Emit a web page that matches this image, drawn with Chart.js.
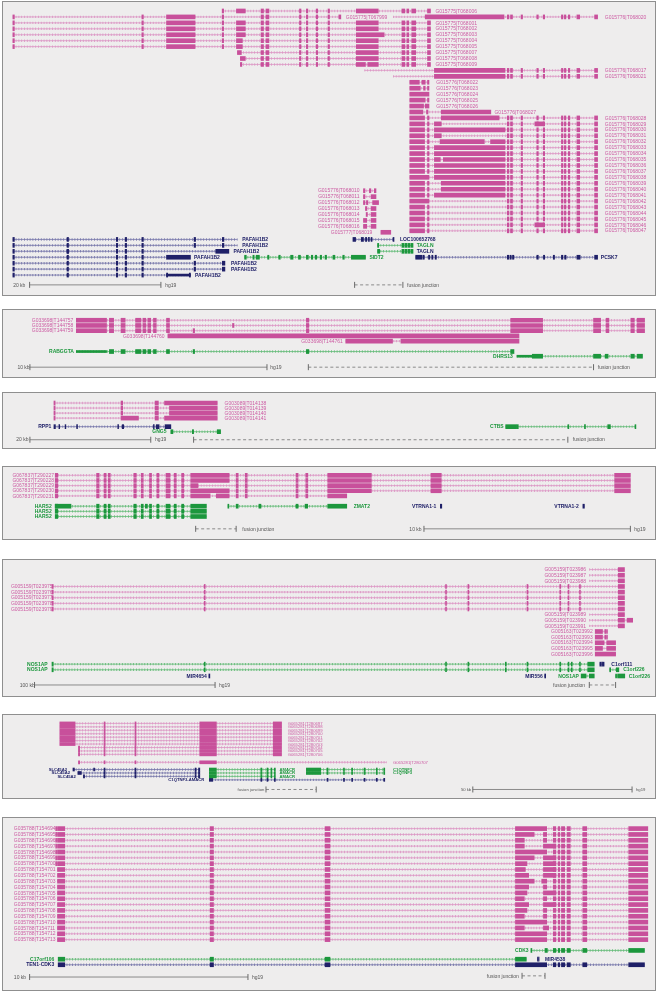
<!DOCTYPE html>
<html>
<head>
<meta charset="utf-8">
<script src="https://cdn.jsdelivr.net/npm/chart.js@4.4.1/dist/chart.umd.min.js"></script>
<style>
  body { margin: 0; background: #fff; }
  .panel { position: absolute; left: 2px; width: 654px; box-sizing: border-box; background: #eeeded; border: 1.5px solid #8f8f8f; }
  canvas { position: absolute; left: 0; }
</style>
</head>
<body>
<script>
// panel frames (page px) and track rows
const frameTop = [1, 309, 392, 466, 559, 714, 817];
const frameBottom = [296, 378, 449, 540, 697, 799, 991];
const rowTop = [6.15, 316.3, 399.3, 471, 565, 719, 824];
const rowGap = [6.15, 6.1, 6.1, 5.95, 6.07, 3.9, 6.2];
const exonH = [4, 4, 4, 4, 4, 3, 4];
const fontPx = [5, 5, 5, 5, 5, 4.2, 5];

// transcript = [colour, row, start, end, exons, label, labelPos, align, labelColour]
// exon = [start, end] or [start, end, 1] for thin (UTR) parts

// ---- panel 1 ----
const p1Tick = [[8, 9.5], [139, 140.5], [220.5, 222]];
const p1Mid = [[260, 262.5], [265, 268], [299, 300.5], [306, 307.5], [316, 317.5], [328, 329.5]];
const p1Tail = [[403, 406], [408, 410], [413, 417], [429, 432]];
const p1Right = [[510, 511.7], [513.3, 515.3], [524, 525.5], [540, 541.5], [546.5, 548], [565, 566.5], [568, 569.5], [572, 573.5], [580.7, 583.5], [598.7, 601.7]];

const p1Tx = [
  ['p', 0, 220.7, 432, [[220.5, 222], [235, 244], ...p1Mid, [356.7, 379], ...p1Tail], 'G015775|T068006', 437, 'l'],
  ['p', 1, 8, 341, [...p1Tick, [164, 193], ...p1Mid, [339, 341]], 'G015775|T067999', 346, 'l'],
  ['p', 1, 394, 601.7, [[426.7, 506.7], ...p1Right], 'G015776|T068020', 609, 'l'],
  ['p', 2, 8, 432, [...p1Tick, [164, 193], [235, 244], ...p1Mid, [356.7, 379], ...p1Tail], 'G015775|T068001', 437, 'l'],
  ['p', 3, 8, 432, [...p1Tick, [164, 193], [235, 244], ...p1Mid, [356.7, 379], ...p1Tail], 'G015775|T068002', 437, 'l'],
  ['p', 4, 8, 432, [...p1Tick, [164, 193], [235, 244], ...p1Mid, [356.7, 385], ...p1Tail], 'G015775|T068003', 437, 'l'],
  ['p', 5, 8, 432, [...p1Tick, [164, 193], [235, 241], ...p1Mid, [356.7, 379], ...p1Tail], 'G015775|T068004', 437, 'l'],
  ['p', 6, 8, 432, [...p1Tick, [164, 193], [235, 241], ...p1Mid, [356.7, 379], ...p1Tail], 'G015775|T068005', 437, 'l'],
  ['p', 7, 236, 432, [[236, 240], ...p1Mid, [356.7, 379], ...p1Tail], 'G015775|T068007', 437, 'l'],
  ['p', 8, 239, 432, [[239, 244], ...p1Mid, [356.7, 379], ...p1Tail], 'G015775|T068008', 437, 'l'],
  ['p', 9, 239, 432, [[239, 240.5], ...p1Mid, [356.7, 366], [368.3, 379], ...p1Tail], 'G015775|T068009', 437, 'l'],
  ['p', 10, 365, 601.7, [[436, 507.7], ...p1Right], 'G015776|T068017', 609, 'l'],
  ['p', 11, 394, 601.7, [[436, 507.7], ...p1Right], 'G015776|T068021', 609, 'l'],
  ['p', 12, 411, 430.5, [[411, 420.7], [423.3, 426.7], [429, 430.5]], 'G015776|T068022', 438, 'l'],
  ['p', 13, 411, 430.5, [[411, 421.7], [425, 426.7], [429, 430.5]], 'G015776|T068023', 438, 'l'],
  ['p', 14, 411, 430.5, [[411, 430.5]], 'G015776|T068024', 438, 'l'],
  ['p', 15, 411, 430.5, [[411, 426.7], [429, 430.5]], 'G015776|T068025', 438, 'l'],
  ['p', 16, 411, 430.5, [[411, 425], [426.7, 430.5]], 'G015776|T068026', 438, 'l'],
  ['p', 17, 411, 493.3, [[411, 424.3], [428, 429.5], [443, 493.3]], 'G015776|T068027', 497, 'l'],
];

const p1LongNames = ['T068028', 'T068029', 'T068030', 'T068031', 'T068032', 'T068033', 'T068034', 'T068035', 'T068036', 'T068037',
  'T068038', 'T068039', 'T068040', 'T068041', 'T068042', 'T068043', 'T068044', 'T068045', 'T068046', 'T068047'];
const p1LongHead = [
  [[411, 426], [429, 430.5]], [[411, 426], [429, 430.5]], [[411, 426], [429, 430.5]], [[411, 426], [429, 430.5]], [[411, 426], [429, 430.5]],
  [[411, 426], [429, 430.5]], [[411, 426], [429, 430.5]], [[411, 426], [429, 430.5]], [[411, 426], [429, 430.5]], [[411, 426], [429, 430.5]],
  [[411, 430.5]], [[411, 426], [429, 430.5]], [[411, 426], [429, 430.5]], [[411, 426], [429, 430.5]], [[411, 430.5]],
  [[411, 426], [429, 430.5]], [[411, 426], [429, 430.5]], [[411, 426], [429, 430.5]], [[411, 426], [429, 430.5]], [[411, 426], [429, 430.5]],
];
const p1LongBody = [
  [[443, 501.7]], [[436, 443], [538, 547]], [[436, 507.7]], [[436, 443]], [[441.7, 486.7], [493, 507.7]],
  [[436, 507.7]], [[436, 507.7]], [[436, 442], [445, 507.7]], [[436, 507.7]], [[436, 507.7]],
  [[436, 507.7]], [[443, 507.7]], [[443, 507.7]], [[436, 507.7]], [],
  [], [], [], [[538, 547]], [],
];
const p1Long = p1LongNames.map((n, i) =>
  ['p', 18 + i, 411, 601.7, [...p1LongHead[i], ...p1LongBody[i], ...p1Right], 'G015776|' + n, 609, 'l']);

const p1Short = [
  ['p', 30.25, 364, 376.7, [[364, 365.5], [370, 371.5], [375, 376.7]], 'G015776|T068010', 360, 'r'],
  ['p', 31.25, 364, 376.7, [[364, 365.5], [371.7, 376.7]], 'G015776|T068011', 360, 'r'],
  ['p', 32.25, 364, 379.3, [[364, 365.5], [367, 368.5], [373.3, 379.3]], 'G015776|T068012', 360, 'r'],
  ['p', 33.25, 366, 376.7, [[366, 367.5], [371.7, 376.7]], 'G015776|T068013', 360, 'r'],
  ['p', 34.25, 366.7, 376.7, [[366.7, 368], [371.7, 376.7]], 'G015776|T068014', 360, 'r'],
  ['p', 35.25, 364, 376.7, [[364, 367.3], [371.7, 376.7]], 'G015776|T068015', 360, 'r'],
  ['p', 36.25, 364, 376.7, [[364, 367.3], [371.7, 376.7]], 'G015776|T068016', 360, 'r'],
  ['p', 37.25, 381.7, 391.7, [[381.7, 391.7]], 'G015777|T068019', 373, 'r'],
];

const pafTicks = [[8, 9.5], [63, 64.5], [113, 114.5], [122, 123.5], [139, 140.5]];
const p1Genes = [
  ['n', 38.45, 8, 236, [...pafTicks, [192, 193.5], [220.7, 222.3]], 'PAFAH1B2', 241, 'l'],
  ['n', 39.45, 8, 236, [...pafTicks, [192, 193.5], [220.7, 222.3]], 'PAFAH1B2', 241, 'l'],
  ['n', 40.45, 8, 227.3, [...pafTicks, [63, 64.5], [214, 227.3]], 'PAFAH1B2', 232, 'l'],
  ['n', 41.45, 8, 188.3, [...pafTicks, [164, 188.3]], 'PAFAH1B2', 192, 'l'],
  ['n', 42.45, 8, 223.3, [...pafTicks, [192, 193.5], [220.7, 223.3]], 'PAFAH1B2', 229.5, 'l'],
  ['n', 43.45, 8, 223.3, [...pafTicks, [192, 193.5], [220.7, 223.3]], 'PAFAH1B2', 229.5, 'l'],
  ['n', 44.45, 8, 188.3, [...pafTicks, [164, 165.2], [164, 188.3, 1], [187.1, 188.3]], 'PAFAH1B2', 193, 'l'],
  ['n', 38.45, 353.3, 395, [[353.3, 356], [361.7, 364], [366, 367.3], [369, 370], [371.7, 372.7], [394, 395]], 'LOC100652768', 401, 'l'],
  ['g', 39.45, 378.3, 414.3, [[378.3, 379.5], [403, 405], [406, 408], [409, 411], [412, 414.3]], 'TAGLN', 418, 'l'],
  ['g', 40.45, 378.3, 414.3, [[378.3, 380.5], [403, 405], [406, 408], [409, 411], [412, 414.3]], 'TAGLN', 418, 'l', 'n'],
  ['g', 41.45, 243.3, 366, [[243.3, 245], [251.7, 253], [255, 258.3], [266.7, 268], [278, 279.5], [290, 292.5], [298, 300], [306, 308],
    [311, 312.5], [315, 316.5], [320, 321.5], [325, 326.5], [333, 335], [343, 344.5], [351.7, 366]], 'SIDT2', 370, 'l'],
  ['n', 41.45, 417, 601.7, [[417, 423.3], [424.3, 425.7], [430, 431.3], [433.3, 434.5], [436.7, 438], [510, 511.5], [512.7, 514],
    [515.3, 516.7], [540, 541.5], [546.7, 548], [556.7, 558], [565, 566.5], [568.3, 569.7], [580.7, 584], [598.7, 601.7]], 'PCSK7', 605, 'l'],
];
const p1Notes = [['20 kb', 8.3, 46.1, 'l'], ['hg19', 162.7, 46.1, 'l'], ['fusion junction', 408.3, 46.1, 'l']];
const p1Guides = [[25, 158.3, 46.1, 's'], [355, 404, 46.1, 'f']];

// ---- panel 2 ----
const p2Ex = [[72.4, 103.1], [106, 110.3], [117.8, 122], [132.6, 138], [140, 143], [145, 148], [150.7, 153.6], [164, 167],
  [306, 308.5], [513.5, 545.9], [597.6, 604.8], [610.3, 613.2], [635.5, 639], [641.8, 649.4]];
const p2Tx = [
  ['p', 0, 72.4, 649.4, p2Ex, 'G033698|T144757', 69.4, 'r'],
  ['p', 1, 72.4, 649.4, [...p2Ex, [231, 232.5]], 'G033698|T144758', 69.4, 'r'],
  ['p', 2, 72.4, 649.4, [...p2Ex, [191, 192.5]], 'G033698|T144759', 69.4, 'r'],
  ['p', 3, 165.4, 521.9, [[165.4, 521.9]], 'G033698|T144760', 162, 'r'],
  ['p', 4, 346, 521.9, [[346, 393.5], [402, 521.9]], 'G033698|T144761', 343, 'r'],
  ['g', 6, 72.4, 516.8, [[72.4, 103.1, 1], [106, 110.3], [117.8, 122], [132.6, 138], [140, 143], [145, 148], [150.7, 153.6],
    [164, 167], [191, 192.5], [306, 308.5], [513.5, 516.8]], 'RABGGTA', 70, 'r'],
  ['g', 6.9, 519.8, 647.3, [[519.8, 535.4, 1], [535.4, 545.9], [597.6, 604.8], [609.4, 612.4], [635.5, 639], [641.8, 647.3]], 'DHRS13', 515.6, 'r'],
];
const p2Notes = [['10 kb', 12.6, 9, 'l'], ['hg19', 269.4, 9, 'l'], ['fusion junction', 601.9, 9, 'l']];
const p2Guides = [[25.3, 266, 9, 's'], [308, 597.6, 9, 'f']];

// ---- panel 3 ----
const p3Tx = [
  ['p', 0, 49.7, 215.5, [[49.7, 50.9], [117.8, 119.5], [152.4, 155.7], [162, 215.5]], 'G003089|T014138', 223, 'l'],
  ['p', 1, 49.7, 215.5, [[49.7, 50.9], [117.8, 119.5], [152.4, 155.7], [167, 215.5]], 'G003089|T014139', 223, 'l'],
  ['p', 2, 49.7, 215.5, [[49.7, 50.9], [117.8, 119.5], [152.4, 155.7], [167, 215.5]], 'G003089|T014140', 223, 'l'],
  ['p', 3, 49.7, 215.5, [[49.7, 50.9], [117.8, 135.5], [152.4, 155.7], [162, 215.5]], 'G003089|T014141', 223, 'l'],
  ['n', 4.7, 49.7, 168.4, [[49.7, 51.2], [54.7, 55.5], [61, 61.8], [72.8, 73.6], [114.5, 115.3], [119, 120.5], [150.7, 151.5],
    [153.6, 156.5], [162.5, 168.4]], 'RPP1', 47, 'r'],
  ['g', 5.7, 168.4, 218.9, [[168.4, 170.5], [190.2, 191.5], [215.5, 218.9]], 'GNG5', 164, 'r'],
  ['g', 4.7, 508.4, 640.6, [[508.4, 519.5], [520, 521.2], [571.5, 572.5], [588.4, 589.4], [612, 614.7], [639.7, 640.6]], 'CTBS', 506.3, 'r'],
];
const p3Notes = [['20 kb', 11.4, 7.3, 'l'], ['hg19', 152.4, 7.3, 'l'], ['fusion junction', 576.6, 7.3, 'l']];
const p3Guides = [[25.3, 148, 7.3, 's'], [191.5, 571.5, 7.3, 'f']];

// ---- panel 4 ----
const p4Small = [[51, 53.6], [93, 95.6], [100.6, 102.7], [104.8, 106.9], [130.8, 133.3], [138.3, 140.4], [146.7, 148.8],
  [154.2, 156.3], [163.5, 167.6], [171.8, 173.9], [179.4, 181.5]];
const p4Mid = [[234.7, 236.8], [243.9, 246], [295.5, 297.6], [305.4, 307.5]];
const p4Tail = [[327.7, 372], [432.5, 443], [619, 635]];
const p4Tx = [
  ['p', 0, 51, 635, [...p4Small, [188.6, 227.6], ...p4Mid, ...p4Tail], 'G067837|T290227', 7.5, 'l'],
  ['p', 1, 51, 635, [...p4Small, [188.6, 227.6], ...p4Mid, ...p4Tail], 'G067837|T290228', 7.5, 'l'],
  ['p', 2, 51, 635, [...p4Small, [188.6, 196], ...p4Mid, ...p4Tail], 'G067837|T290229', 7.5, 'l'],
  ['p', 3, 51, 635, [...p4Small, [188.6, 227.6], ...p4Mid, ...p4Tail], 'G067837|T290230', 7.5, 'l'],
  ['p', 4, 51, 347, [...p4Small, [188.6, 208.3], [214.6, 227.6], ...p4Mid, [327.7, 347]], 'G067837|T290231', 7.5, 'l'],
  ['g', 6, 51, 204.5, [[51, 67], ...p4Small, [142.5, 144.6], [188.6, 204.5]], 'HARS2', 47.4, 'r'],
  ['g', 7, 51, 204.5, [...p4Small, [188.6, 204.5]], 'HARS2', 47.4, 'r'],
  ['g', 8, 51, 204.5, [...p4Small, [188.6, 204.5]], 'HARS2', 47.4, 'r'],
  ['g', 6, 226.3, 347, [[226.3, 227.3], [234.7, 236.8], [257.8, 259.9], [295.5, 297.6], [304.7, 307.3], [327.7, 347]], 'ZMAT2', 354, 'l'],
  ['n', 6, 442, 443.5, [[442, 443.5]], 'VTRNA1-1', 438, 'r'],
  ['n', 6, 586.8, 588.3, [[586.8, 588.3]], 'VTRNA1-2', 582.6, 'r'],
];
const p4Notes = [['fusion junction', 241, 10.4, 'l'], ['10 kb', 423, 10.4, 'r'], ['hg19', 639, 10.4, 'l']];
const p4Guides = [[193.6, 234.7, 10.4, 'f'], [425.4, 635, 10.4, 's']];

// ---- panel 5 ----
const p5Long = [[47.7, 49], [202.3, 203.3], [447.3, 448.3], [470, 471], [530, 531], [563.3, 564.3], [571.7, 572.7], [583.3, 584.3], [622.7, 629]];
const p5LongNames = ['T023975', 'T023976', 'T023977', 'T023978', 'T023979'];
const nosEx = [[47.7, 49], [202.3, 203.3], [447.3, 448.3], [470, 471], [508, 509], [530, 531], [563.3, 564.3], [571.7, 572.7],
  [575, 576], [583.3, 584.3], [591.7, 598.3]];
const p5Tx = [
  ['p', 0, 593.3, 629, [[622.7, 629]], 'G005159|T023986', 590, 'r'],
  ['p', 1, 593.3, 629, [[622.7, 629]], 'G005159|T023987', 590, 'r'],
  ['p', 2, 593.3, 629, [[622.7, 629]], 'G005159|T023988', 590, 'r'],
  ...p5LongNames.map((n, i) => ['p', 3 + i, 47.7, 629, p5Long, 'G005159|' + n, 6, 'l']),
  ['p', 8, 593.3, 629, [[622.7, 629]], 'G005159|T023989', 590, 'r'],
  ['p', 9, 593.3, 637.3, [[622.7, 629], [631.7, 637.3]], 'G005159|T023990', 590, 'r'],
  ['p', 10, 593.3, 629, [[622.7, 629]], 'G005159|T023991', 590, 'r'],
  ['p', 11, 599.3, 611.7, [[599.3, 606.7], [609, 610], [610.8, 611.7]], 'G005163|T023992', 596.7, 'r'],
  ['p', 12, 599.3, 611.7, [[599.3, 606.7], [609, 610], [610.8, 611.7]], 'G005163|T023993', 596.7, 'r'],
  ['p', 13, 599.3, 620, [[599.3, 608.3], [611, 620]], 'G005163|T023994', 596.7, 'r'],
  ['p', 14, 599.3, 620, [[599.3, 606.7], [611, 620]], 'G005163|T023995', 596.7, 'r'],
  ['p', 15, 599.3, 620, [[599.3, 620]], 'G005163|T023996', 596.7, 'r'],
  ['g', 16.8, 47.7, 598.3, nosEx, 'NOS1AP', 43.3, 'r'],
  ['g', 17.8, 47.7, 598.3, nosEx, 'NOS1AP', 43.3, 'r'],
  ['n', 18.9, 207, 208, [[207, 208]], 'MIR4654', 205, 'r'],
  ['n', 18.9, 548, 549, [[548, 549]], 'MIR556', 546, 'r'],
  ['g', 18.9, 585, 598.3, [[585, 590], [593.3, 598.3]], 'NOS1AP', 582.7, 'r'],
  ['n', 16.8, 604, 608.3, [[604, 605], [605.8, 606.8], [607.5, 608.3]], 'C1orf111', 615.7, 'l'],
  ['g', 17.8, 614, 623.3, [[614, 615], [620.7, 623.3]], 'C1orf226', 627.7, 'l'],
  ['g', 18.9, 620, 629.3, [[620, 621], [622, 629.3]], 'C1orf226', 633.3, 'l'],
];
const p5Notes = [['100 kb', 15, 20.5, 'l'], ['hg19', 217.3, 20.5, 'l'], ['fusion junction', 589, 20.5, 'r']];
const p5Guides = [[30, 213.3, 20.5, 's'], [593.3, 620, 20.5, 'f']];

// ---- panel 6 ----
const p6Names = ['T280697', 'T280698', 'T280699', 'T280700', 'T280701', 'T280702', 'T280703', 'T280704', 'T280705', 'T280706'];
const p6Full = [[55.7, 71.2], [100.6, 101.6], [132, 133], [197.8, 214.6], [272.4, 280.8]];
const p6Short = [[74.6, 75.8], [100.6, 101.6], [132, 133], [197.8, 214.6], [272.4, 280.8]];
const amacrEx = [[207.5, 214.6], [259.8, 260.8], [266, 267], [270, 271], [273.5, 274.5]];
const c1qEx = [[306, 320.6], [327, 328], [343.7, 344.7], [352, 353], [364.6, 365.6], [377, 378], [384.6, 385.6]];
const p6Tx = [
  ...p6Names.map((n, i) => ['p', i, i < 7 ? 55.7 : 74.6, 280.8, i < 7 ? p6Full : p6Short, 'G065281|' + n, 287, 'l']),
  ['p', 11.3, 74.6, 387.7, [[74.6, 75.8], [100.6, 101.6], [132, 133], [197.8, 214.6]], 'G065281|T280707', 394, 'l'],
  ['n', 13.4, 69, 197.8, [[69, 70.5], [90, 91], [100.6, 101.6], [132, 133], [193, 194], [196.5, 197.8]], 'SLC45A2', 63, 'r'],
  ['n', 14.4, 74, 197.8, [[74, 77.5], [100.6, 101.6], [132, 133], [193, 194], [196.5, 197.8]], 'SLC45A2', 66, 'r'],
  ['n', 15.4, 79.6, 197.8, [[79.6, 80.8], [100.6, 101.6], [132, 133], [193, 194], [196.5, 197.8]], 'SLC45A2', 72, 'r'],
  ['g', 13.4, 207.5, 274.5, amacrEx, 'AMACR', 278.7, 'l'],
  ['g', 14.4, 207.5, 274.5, amacrEx, 'AMACR', 278.7, 'l'],
  ['g', 15.4, 207.5, 274.5, amacrEx, 'AMACR', 278.7, 'l'],
  ['g', 13.4, 306, 385.6, c1qEx, 'C1QTNF3', 394, 'l'],
  ['g', 14.4, 306, 385.6, c1qEx, 'C1QTNF3', 394, 'l'],
  ['n', 16.4, 207.5, 385.6, [[207.5, 211], [259.8, 260.8], [266, 267], [273.5, 274.5], [327, 328], [343.7, 344.7], [352, 353],
    [364.6, 365.6], [377, 378], [384.6, 385.6]], 'C1QTNF3-AMACR', 202.4, 'r'],
];
const p6Notes = [['fusion junction', 263.3, 19.2, 'r'], ['50 kb', 473.3, 19.2, 'r'], ['hg19', 640.7, 19.2, 'l']];
const p6Guides = [[265, 316, 19.2, 'f'], [475, 636.7, 19.2, 's']];

// ---- panel 7 ----
const p7Names = ['T154694', 'T154695', 'T154696', 'T154697', 'T154698', 'T154699', 'T154700', 'T154701', 'T154702', 'T154703',
  'T154704', 'T154705', 'T154706', 'T154707', 'T154708', 'T154709', 'T154710', 'T154711', 'T154712', 'T154713'];
const p7Core = [[53.3, 60.7], [208.3, 211.7], [325, 330]];
const p7Blocks = [
  [[518.3, 550]], [[518.3, 537.3], [546.7, 550]], [[518.3, 527.3], [546.7, 550]], [[518.3, 527.3], [546.7, 559.3]],
  [[518.3, 550]], [[518.3, 537.3], [546.7, 559.3]], [[518.3, 530], [546.7, 559.3]], [[518.3, 528.3], [546.7, 559.3]],
  [[518.3, 531.7], [546.7, 559.3]], [[518.3, 537.3], [545, 550]], [[518.3, 531.7], [546.7, 550]], [[518.3, 530], [546.7, 559.3]],
  [[518.3, 527.3], [546.7, 550]], [[518.3, 531.7], [546.7, 559.3]], [[518.3, 530], [546.7, 550]], [[518.3, 527.3], [546.7, 550]],
  [[518.3, 550]], [[518.3, 527.3], [546.7, 552]], [[518.3, 550]], [[518.3, 550]],
];
const p7Tail = [[556.7, 559.3], [561.7, 563.3], [565, 568.3], [570.7, 574], [586.7, 590.7], [633.3, 652.7]];
const cdk3Tail = [[556.7, 559.3], [561.7, 563.3], [565, 568.3], [570.7, 574], [586.7, 590.7], [633.3, 649.3]];
const p7Tx = [
  ...p7Names.map((n, i) => ['p', i, i < 7 ? 51.5 : 53.3, 652.7,
    [...(i < 7 ? [[51.5, 52.4]] : []), ...p7Core, ...p7Blocks[i], ...p7Tail], 'G035788|' + n, 9, 'l']),
  ['g', 20.85, 534, 649.3, [[534, 535], [548.3, 550.7], ...cdk3Tail], 'CDK3', 531.7, 'r'],
  ['g', 22.35, 54, 529.3, [[54, 60.7], [208.3, 211.7], [325, 330], [518.3, 529.3]], 'C17orf106', 50, 'r'],
  ['n', 22.35, 540.7, 542.3, [[540.7, 541.2], [541.8, 542.3]], 'MIR4538', 548.3, 'l'],
  ['n', 23.3, 54, 649.3, [[54, 60.7], [208.3, 211.7], [325, 330], [518.3, 550], ...cdk3Tail], 'TEN1-CDK3', 50, 'r'],
];
const p7Notes = [['10 kb', 9, 25.4, 'l'], ['hg19', 250.7, 25.4, 'l'], ['fusion junction', 521.7, 25.2, 'r']];
const p7Guides = [[25, 246.7, 25.4, 's'], [525, 548.3, 25.2, 'f']];

// ---- drawing ----
const palette = {
  p: { exon: '#c8509b', intron: '#dc95c4', text: '#cc5aa2' },
  g: { exon: '#1c973d', intron: '#62ba76', text: '#1c973d' },
  n: { exon: '#1f2068', intron: '#7374a8', text: '#1f2068' },
};

const drawPanel = (k, transcripts, notes, guides) => {
  const top = frameTop[k];
  const h = frameBottom[k] - top;

  const frame = document.createElement('div');
  frame.className = 'panel';
  frame.style.top = top + 'px';
  frame.style.height = h + 'px';
  document.body.appendChild(frame);

  const canvas = document.createElement('canvas');
  canvas.width = 660;
  canvas.height = h;
  canvas.style.top = top + 'px';
  canvas.style.width = '660px';
  canvas.style.height = h + 'px';
  document.body.appendChild(canvas);

  const datasets = [];
  ['p', 'g', 'n'].forEach(c => {
    const mine = transcripts.filter(t => t[0] === c);
    if (!mine.length) return;
    const thick = [], thin = [], line = [];
    mine.forEach(t => {
      line.push({ x: t[2], y: t[1] }, { x: t[3], y: t[1] }, { x: t[3], y: null });
      t[4].forEach(e => (e[2] ? thin : thick).push({ x: [e[0], e[1]], y: t[1] }));
    });
    datasets.push({ type: 'bar', indexAxis: 'y', data: thick, backgroundColor: palette[c].exon, barThickness: exonH[k], stack: 'one', order: 0 });
    datasets.push({ type: 'bar', indexAxis: 'y', data: thin, backgroundColor: palette[c].exon, barThickness: exonH[k] * 0.5, stack: 'one', order: 0 });
    datasets.push({ type: 'line', data: line, borderColor: palette[c].intron, borderWidth: 0.8, pointRadius: 0, order: 2 });
    datasets.push({ type: 'line', data: line, borderColor: palette[c].intron, borderWidth: 2.4, borderDash: [0.8, 2], pointRadius: 0, order: 2 });
  });
  guides.forEach(g => {
    datasets.push({
      type: 'line', data: [{ x: g[0], y: g[2] }, { x: g[1], y: g[2] }],
      borderColor: '#8a8a8a', borderWidth: 1, borderDash: g[3] === 'f' ? [3, 2.5] : [],
      pointStyle: 'line', pointRotation: 90, pointRadius: 3, pointBorderColor: '#6a6a6a', pointBorderWidth: 1, order: 1,
    });
  });

  const texts = transcripts.map(t => [t[5], t[6], t[1], t[7], t[8] || t[0], t[0] !== 'p'])
    .concat(notes.map(n => [n[0], n[1], n[2], n[3], 'k', false]));

  new Chart(canvas, {
    type: 'bar',
    data: { datasets },
    options: {
      responsive: false,
      animation: false,
      devicePixelRatio: 1,
      events: [],
      layout: { padding: 0 },
      plugins: { legend: { display: false }, tooltip: { enabled: false } },
      scales: {
        x: { type: 'linear', min: 0, max: 660, display: false, offset: false, stacked: false },
        y: {
          type: 'linear', reverse: true, display: false, offset: false,
          min: (top - rowTop[k]) / rowGap[k],
          max: (frameBottom[k] - rowTop[k]) / rowGap[k],
        },
      },
    },
    plugins: [{
      id: 'trackLabels',
      afterDatasetsDraw(chart) {
        const { ctx, scales: { x, y } } = chart;
        ctx.save();
        ctx.textBaseline = 'middle';
        texts.forEach(([s, px, row, align, c, bold]) => {
          ctx.font = `${bold ? 'bold ' : ''}${fontPx[k]}px "Liberation Sans", Arial, sans-serif`;
          ctx.fillStyle = c === 'k' ? '#555' : palette[c].text;
          ctx.textAlign = align === 'r' ? 'right' : 'left';
          ctx.fillText(s, x.getPixelForValue(px), y.getPixelForValue(row) + 0.3);
        });
        ctx.restore();
      },
    }],
  });
};

drawPanel(0, [...p1Tx, ...p1Long, ...p1Short, ...p1Genes], p1Notes, p1Guides);
drawPanel(1, p2Tx, p2Notes, p2Guides);
drawPanel(2, p3Tx, p3Notes, p3Guides);
drawPanel(3, p4Tx, p4Notes, p4Guides);
drawPanel(4, p5Tx, p5Notes, p5Guides);
drawPanel(5, p6Tx, p6Notes, p6Guides);
drawPanel(6, p7Tx, p7Notes, p7Guides);
</script>
</body>
</html>
